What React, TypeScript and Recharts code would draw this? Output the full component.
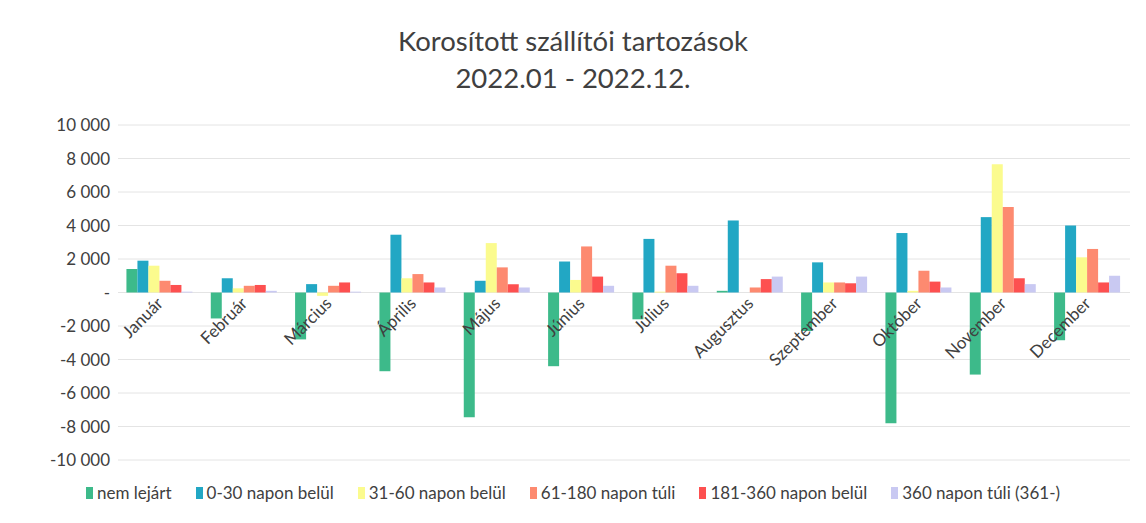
import React from "react";
import { BarChart, Bar, XAxis, YAxis, CartesianGrid } from "recharts";

const months = [
  "Január", "Február", "Március", "Április", "Május", "Június",
  "Július", "Augusztus", "Szeptember", "Október", "November", "December",
];

const nemLejart = [1400, -1550, -2800, -4700, -7450, -4400, -1600, 100, -2300, -7800, -4900, -2850];
const napon0_30 = [1900, 850, 500, 3450, 700, 1850, 3200, 4300, 1800, 3550, 4500, 4000];
const napon31_60 = [1600, 250, -200, 850, 2950, 750, 50, 0, 600, 100, 7650, 2100];
const napon61_180 = [700, 400, 400, 1100, 1500, 2750, 1600, 300, 600, 1300, 5100, 2600];
const napon181_360 = [450, 450, 600, 600, 500, 950, 1150, 800, 550, 650, 850, 600];
const napon360 = [50, 100, 50, 300, 300, 400, 400, 950, 950, 300, 500, 1000];

const yTicks = [-10000, -8000, -6000, -4000, -2000, 0, 2000, 4000, 6000, 8000, 10000];

const series = [
  { key: "nemLejart", name: "nem lejárt", color: "#3dba8a" },
  { key: "d0_30", name: "0-30 napon belül", color: "#22a7c4" },
  { key: "d31_60", name: "31-60 napon belül", color: "#fbfb8e" },
  { key: "d61_180", name: "61-180 napon túli", color: "#fd8a70" },
  { key: "d181_360", name: "181-360 napon belül", color: "#fd5050" },
  { key: "d360", name: "360 napon túli (361-)", color: "#c9c9f2" },
];

const data = months.map((m, i) => ({
  month: m,
  nemLejart: nemLejart[i],
  d0_30: napon0_30[i],
  d31_60: napon31_60[i],
  d61_180: napon61_180[i],
  d181_360: napon181_360[i],
  d360: napon360[i],
}));

const W = 1146;
const H = 523;
const TOP = 125;
const BOTTOM = 62;
const ZERO_Y = TOP + (H - TOP - BOTTOM - 1) / 2;
const FONT = "Lato, 'Open Sans', sans-serif";

const fmt = (v: number) => {
  if (v === 0) return "-";
  const s = Math.abs(v).toString().replace(/\B(?=(\d{3})+(?!\d))/g, " ");
  return (v < 0 ? "-" : "") + s;
};

// month labels sit under the zero line, like Excel's "next to axis"
const MonthTick = ({ x, payload }: any) => (
  <text
    x={x + 4}
    y={ZERO_Y + 12}
    transform={`rotate(-45, ${x + 4}, ${ZERO_Y + 12})`}
    textAnchor="end"
    fontSize={17}
    fill="#404040"
    fontFamily={FONT}
  >
    {payload.value}
  </text>
);

export default function App() {
  return (
    <div style={{ position: "absolute", left: 0, top: 0, width: W, height: H, background: "#fff" }}>
      <div style={{ position: "absolute", left: 0, top: 22, width: W, textAlign: "center", fontFamily: FONT, fontSize: 27.5, color: "#404040", lineHeight: "37px" }}>
        <div>Korosított szállítói tartozások</div>
        <div>2022.01 - 2022.12.</div>
      </div>
      <BarChart
        width={W}
        height={H}
        data={data}
        margin={{ top: TOP, right: 16, bottom: BOTTOM, left: 8 }}
        barGap={0}
        barCategoryGap="10%"
      >
        <CartesianGrid vertical={false} stroke="#e4e4e4" />
        <XAxis dataKey="month" axisLine={false} tickLine={false} tick={<MonthTick />} height={1} interval={0} />
        <YAxis
          domain={[-10000, 10000]}
          ticks={yTicks}
          tickFormatter={fmt}
          axisLine={false}
          tickLine={false}
          width={110}
          tick={{ fontSize: 17, fill: "#404040", fontFamily: FONT }}
        />
        {series.map((s) => (
          <Bar key={s.key} dataKey={s.key} name={s.name} fill={s.color} isAnimationActive={false} />
        ))}
      </BarChart>
      <div style={{ position: "absolute", left: 0, top: 482, width: W, display: "flex", justifyContent: "center", gap: 24, fontFamily: FONT, fontSize: 17, color: "#404040" }}>
        {series.map((s) => (
          <div key={s.key} style={{ display: "flex", alignItems: "center" }}>
            <span style={{ display: "inline-block", width: 7, height: 12, background: s.color, marginRight: 4 }} />
            {s.name}
          </div>
        ))}
      </div>
    </div>
  );
}
